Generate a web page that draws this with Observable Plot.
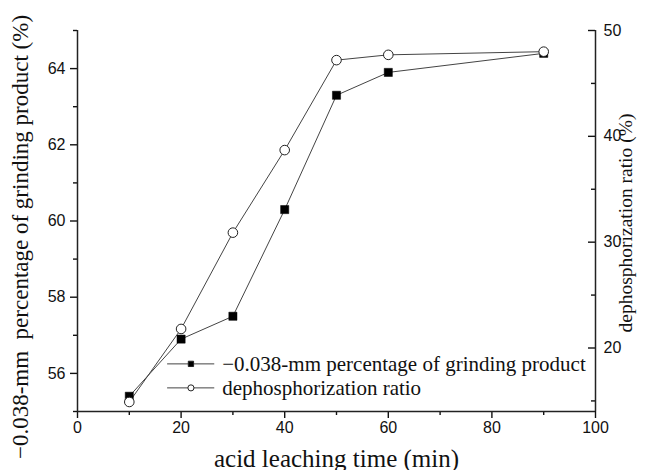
<!DOCTYPE html>
<html><head><meta charset="utf-8">
<script src="https://cdn.jsdelivr.net/npm/d3@7"></script>
<script src="https://cdn.jsdelivr.net/npm/@observablehq/plot@0.6"></script>
<style>body{margin:0;background:#fff} svg{display:block}</style>
</head><body><div id="chart"></div>
<script>
const time = [10, 20, 30, 40, 50, 60, 90];
const grinding = [55.4, 56.9, 57.5, 60.3, 63.3, 63.9, 64.4];
const dephos = [14.9, 21.8, 30.9, 38.7, 47.2, 47.7, 48.0];
const xTicks = [0, 20, 40, 60, 80, 100];
const xMinor = [10, 30, 50, 70, 90];
const leftTicks = [56, 58, 60, 62, 64];
const leftMinor = [55, 57, 59, 61, 63, 65];
const rightTicks = [20, 30, 40, 50];
const rightMinor = [15, 25, 35, 45];
const leftDomain = [55, 65];
const rightDomain = [14, 50];
const seriesNames = ["\u22120.038-mm percentage of grinding product", "dephosphorization ratio"];
const xTitle = "acid leaching time (min)";
const yLeftTitle = "\u22120.038-mm\u00a0 percentage of grinding product (%)";
const yRightTitle = "dephosphorization ratio (%)";

const k = (leftDomain[1] - leftDomain[0]) / (rightDomain[1] - rightDomain[0]);
const toLeft = v => leftDomain[0] + (v - rightDomain[0]) * k;
const fromLeft = v => rightDomain[0] + (v - leftDomain[0]) / k;

const rows = time.map((t, i) => ({t, g: grinding[i], d: toLeft(dephos[i])}));
const legend = [
  {name: seriesNames[0], symbol: "square", y: 56.25},
  {name: seriesNames[1], symbol: "circle", y: 55.62}
];
const legX = [17.3, 21.9, 26.4];

const serif = "Liberation Serif, Times New Roman, serif";
const sans = "Liberation Sans, Arial, sans-serif";
const ink = "#222";
const blank = () => "";

const chart = Plot.plot({
  width: 662, height: 470,
  marginLeft: 77, marginRight: 67, marginTop: 30, marginBottom: 59,
  style: {fontFamily: sans, fontSize: "16px", background: "white", color: "#111"},
  x: {domain: [0, 100]},
  y: {domain: leftDomain},
  marks: [
    // axes
    Plot.axisY(leftTicks, {anchor: "left", tickSize: 7, tickPadding: 5, label: null, fontSize: 16, strokeWidth: 1.4}),
    Plot.axisY(leftMinor, {anchor: "left", tickSize: 4, tickFormat: blank, label: null, strokeWidth: 1.4}),
    Plot.axisX(xTicks, {anchor: "bottom", tickSize: 7, tickPadding: 3, label: null, fontSize: 16, strokeWidth: 1.4}),
    Plot.axisX(xMinor, {anchor: "bottom", tickSize: 4, tickFormat: blank, label: null, strokeWidth: 1.4}),
    Plot.axisY(rightTicks.map(toLeft), {anchor: "left", frameAnchor: "right", tickSize: 7, tickFormat: blank, label: null, strokeWidth: 1.4}),
    Plot.axisY(rightMinor.map(toLeft), {anchor: "left", frameAnchor: "right", tickSize: 4, tickFormat: blank, label: null, strokeWidth: 1.4}),
    Plot.axisY(rightTicks.map(toLeft), {anchor: "right", tickSize: 0, tickPadding: 8, label: null, fontSize: 16, tickFormat: d => Math.round(fromLeft(d))}),
    Plot.ruleX([0, 100], {stroke: ink, strokeWidth: 1.5}),
    Plot.ruleY([leftDomain[0]], {stroke: ink, strokeWidth: 1.5}),
    // series lines
    Plot.line(rows, {x: "t", y: "g", stroke: "#444", strokeWidth: 1}),
    Plot.line(rows, {x: "t", y: "d", stroke: "#444", strokeWidth: 1}),
    Plot.dot(rows, {x: "t", y: "g", symbol: "square", r: 4.6, fill: "#000", stroke: "#000", strokeWidth: 0.5}),
    Plot.dot(rows, {x: "t", y: "d", symbol: "circle", r: 4.8, fill: "white", stroke: ink, strokeWidth: 1}),
    // legend
    Plot.link(legend, {x1: legX[0], x2: legX[2], y1: "y", y2: "y", stroke: "#444", strokeWidth: 1}),
    Plot.dot(legend, {x: legX[1], y: "y", symbol: "symbol", r: d => d.symbol === "square" ? 4.6 : 4.8,
      fill: d => d.symbol === "square" ? "#000" : "white", stroke: ink, strokeWidth: 1}),
    Plot.text(legend, {x: legX[2], y: "y", text: "name", dx: 8, textAnchor: "start", fontFamily: serif, fontSize: 21, fill: "#111"}),
    // titles
    Plot.text([yLeftTitle], {text: d => d, frameAnchor: "left", textAnchor: "middle", lineAnchor: "middle", rotate: -90, dx: -57, dy: 16, fontFamily: serif, fontSize: 23, fill: "#111"}),
    Plot.text([yRightTitle], {text: d => d, frameAnchor: "right", textAnchor: "middle", lineAnchor: "middle", rotate: -90, dx: 30, dy: 2, fontFamily: serif, fontSize: 19.5, fill: "#111"}),
    Plot.text([xTitle], {text: d => d, frameAnchor: "bottom", textAnchor: "middle", lineAnchor: "middle", dy: 47, fontFamily: serif, fontSize: 25, fill: "#111"})
  ]
});
document.getElementById("chart").appendChild(chart);
</script>
</body></html>
